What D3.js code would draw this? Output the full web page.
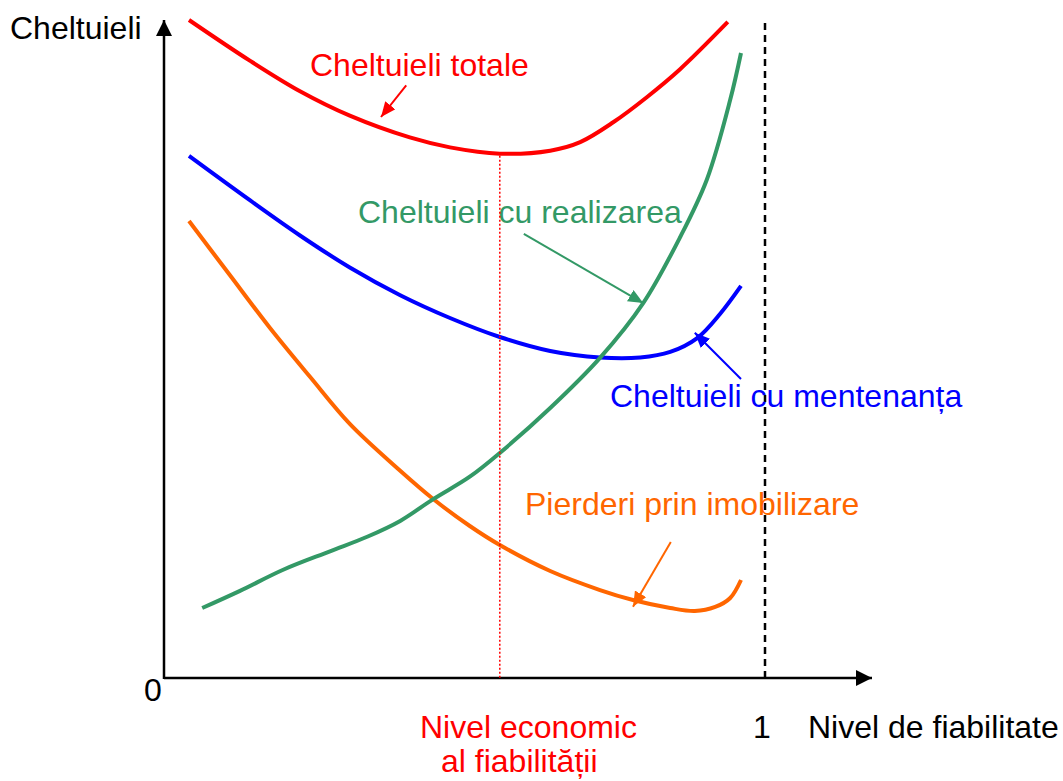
<!DOCTYPE html>
<html>
<head>
<meta charset="utf-8">
<script src="https://cdn.jsdelivr.net/npm/d3@7"></script>
<style>
  html, body { margin: 0; padding: 0; background: #fff; }
  svg { display: block; }
  text { font-family: "Liberation Sans", Arial, sans-serif; }
</style>
</head>
<body>
<svg id="chart" width="1063" height="781"></svg>
<script>
// ---- Data (x: reliability level 0..1, y: cost, arbitrary units 0..100) ----
const totalX = [0.04, 0.142, 0.225, 0.308, 0.408, 0.475, 0.558, 0.642, 0.692, 0.747, 0.803, 0.858, 0.938];
const totalY = [99.7, 93.5, 88.9, 85.2, 81.9, 80.4, 79.45, 79.9, 81.2, 84.2, 88.0, 92.2, 99.4];

const maintX = [0.04, 0.142, 0.225, 0.308, 0.392, 0.475, 0.558, 0.642, 0.725, 0.792, 0.842, 0.887, 0.925, 0.96];
const maintY = [79.1, 72.35, 67.05, 62.2, 58.0, 54.55, 51.67, 49.55, 48.56, 48.56, 49.4, 51.5, 55.15, 59.4];

const lossX = [0.04, 0.108, 0.175, 0.242, 0.308, 0.392, 0.447, 0.508, 0.558, 0.642, 0.725, 0.78, 0.842, 0.883, 0.917, 0.942, 0.96];
const lossY = [69.24, 61.06, 53.03, 45.6, 38.5, 31.4, 27.12, 23.03, 20.15, 16.21, 13.33, 11.82, 10.61, 10.15, 10.76, 12.12, 14.85];

const realX = [0.062, 0.125, 0.197, 0.275, 0.337, 0.392, 0.447, 0.508, 0.558, 0.642, 0.725, 0.797, 0.858, 0.903, 0.942, 0.96];
const realY = [10.6, 13.2, 16.4, 19.2, 21.4, 23.8, 27.1, 30.5, 34.1, 40.9, 48.5, 56.8, 66.7, 75.5, 87.6, 94.7];

const seriesNames = ["Cheltuieli totale", "Cheltuieli cu mentenanța", "Pierderi prin imobilizare", "Cheltuieli cu realizarea"];
const seriesColors = ["#ff0000", "#0000ff", "#ff6600", "#339966"];

// annotation arrows: [fromX, fromY, toX, toY]
const arrowFrom = [[0.402, 89.8], [0.96, 45.3], [0.843, 20.6], [0.598, 67.3]];
const arrowTo   = [[0.36, 85.0], [0.883, 52.3], [0.78, 10.8], [0.797, 56.8]];

const economicLevel = 0.558;   // x of the minimum total cost
const economicCost = 79.45;
const xTickLabels = ["0", "1"];
const yAxisTitle = "Cheltuieli";
const xAxisTitle = "Nivel de fiabilitate";
const economicLabel = ["Nivel economic", "al fiabilității"];

// ---- Layout ----
const svg = d3.select("#chart");
const x = d3.scaleLinear().domain([0, 1]).range([165, 765]);
const y = d3.scaleLinear().domain([0, 100]).range([678, 18]);
const FS = 32;

// markers
const defs = svg.append("defs");
function marker(id, color, w, h) {
  defs.append("marker")
    .attr("id", id)
    .attr("viewBox", `0 0 ${w} ${h}`)
    .attr("refX", w).attr("refY", h / 2)
    .attr("markerWidth", w).attr("markerHeight", h)
    .attr("markerUnits", "userSpaceOnUse")
    .attr("orient", "auto")
    .append("path")
    .attr("d", `M0,0 L${w},${h / 2} L0,${h} Z`)
    .attr("fill", color);
}
marker("axisArrow", "#000", 16, 16);
seriesColors.forEach((c, i) => marker("ann" + i, c, 15, 13));

// axes
const axisG = svg.append("g");
axisG.append("line")
  .attr("x1", x(0) - 1).attr("x2", 872)
  .attr("y1", y(0)).attr("y2", y(0))
  .attr("stroke", "#000").attr("stroke-width", 2.5)
  .attr("marker-end", "url(#axisArrow)");
axisG.append("line")
  .attr("x1", x(0) - 1).attr("x2", x(0) - 1)
  .attr("y1", y(0) + 1).attr("y2", 20)
  .attr("stroke", "#000").attr("stroke-width", 2.5)
  .attr("marker-end", "url(#axisArrow)");

// dashed line at reliability 1
svg.append("line")
  .attr("x1", x(1)).attr("x2", x(1))
  .attr("y1", 23).attr("y2", y(0))
  .attr("stroke", "#000").attr("stroke-width", 2.5)
  .attr("stroke-dasharray", "7,5");

// series curves
const allX = [totalX, maintX, lossX, realX];
const allY = [totalY, maintY, lossY, realY];
const line = d3.line().x(d => x(d[0])).y(d => y(d[1])).curve(d3.curveCatmullRom.alpha(0.5));
allX.forEach((xs, i) => {
  const pts = xs.map((v, j) => [v, allY[i][j]]);
  svg.append("path")
    .attr("d", line(pts))
    .attr("fill", "none")
    .attr("stroke", seriesColors[i])
    .attr("stroke-width", 4)
    .attr("stroke-linecap", "butt");
});

// labels
const labelPos = [[310, 76], [610, 407], [525, 515], [358, 223]];
seriesNames.forEach((n, i) => {
  svg.append("text")
    .attr("x", labelPos[i][0]).attr("y", labelPos[i][1])
    .attr("font-size", FS).attr("fill", seriesColors[i])
    .text(n);
});

// dotted economic level line (on top)
svg.append("line")
  .attr("x1", x(economicLevel)).attr("x2", x(economicLevel))
  .attr("y1", y(economicCost) + 2).attr("y2", y(0))
  .attr("stroke", "#ff0000").attr("stroke-width", 1.5)
  .attr("stroke-dasharray", "2,2");

// annotation arrows
arrowFrom.forEach((f, i) => {
  svg.append("line")
    .attr("x1", x(f[0])).attr("y1", y(f[1]))
    .attr("x2", x(arrowTo[i][0])).attr("y2", y(arrowTo[i][1]))
    .attr("stroke", seriesColors[i]).attr("stroke-width", 2)
    .attr("marker-end", `url(#ann${i})`);
});

// axis texts
svg.append("text").attr("x", 10).attr("y", 39).attr("font-size", FS).attr("fill", "#000").text(yAxisTitle);
svg.append("text").attr("x", 153).attr("y", 701).attr("font-size", FS).attr("text-anchor", "middle").attr("fill", "#000").text(xTickLabels[0]);
svg.append("text").attr("x", x(1) - 3).attr("y", 738).attr("font-size", FS).attr("text-anchor", "middle").attr("fill", "#000").text(xTickLabels[1]);
svg.append("text").attr("x", 808).attr("y", 738).attr("font-size", FS).attr("fill", "#000").text(xAxisTitle);
svg.append("text").attr("x", 420).attr("y", 738).attr("font-size", FS).attr("fill", "#ff0000").text(economicLabel[0]);
svg.append("text").attr("x", 441).attr("y", 772).attr("font-size", FS).attr("fill", "#ff0000").text(economicLabel[1]);
</script>
</body>
</html>
